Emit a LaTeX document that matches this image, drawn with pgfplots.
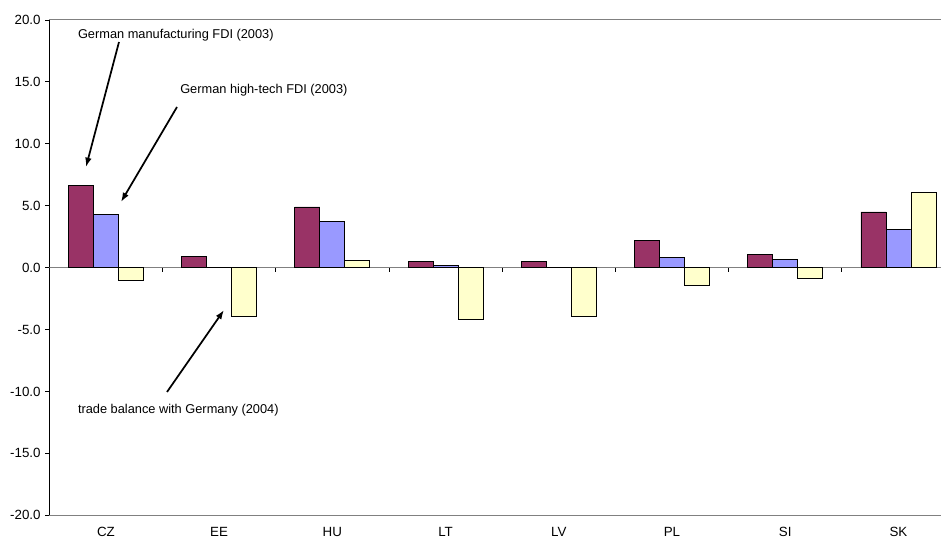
\documentclass[border=0pt]{standalone}
\usepackage{pgfplots}
\pgfplotsset{compat=1.18}
\usepackage{pgfplotstable}
\usepackage{fontspec}
\setmainfont{Liberation Sans}
\usetikzlibrary{arrows.meta}
\definecolor{manu}{HTML}{993366}
\definecolor{htech}{HTML}{9999FF}
\definecolor{trade}{HTML}{FFFFCC}
\definecolor{axgray}{HTML}{808080}

\pgfplotstableread{
x  manu  htech  trade
0  6.6   4.3    -1.0
1  0.9   0.0    -3.9
2  4.9   3.7    0.6
3  0.5   0.2    -4.2
4  0.5   0.05   -3.9
5  2.2   0.8    -1.4
6  1.1   0.65   -0.9
7  4.5   3.05   6.1
}\datatable

\begin{document}
\begin{tikzpicture}
\useasboundingbox (0,0) rectangle (705.75pt,403.5pt);
\begin{scope}
\clip (0,0) rectangle (705.75pt,403.5pt);
\begin{axis}[
  at={(36.975pt,17.025pt)}, anchor=south west,
  scale only axis,
  width=679.3pt, height=371.5pt,
  xmin=-0.5, xmax=7.5,
  ymin=-20, ymax=20,
  ybar=0pt, bar width=0.221,
  separate axis lines,
  axis x line*=box,
  axis y line*=left,
  x axis line style={axgray, line width=0.75pt},
  y axis line style={black, line width=0.75pt},
  xtick={0,...,7},
  xticklabels={CZ,EE,HU,LT,LV,PL,SI,SK},
  x tick style={draw=none},
  xticklabel pos=lower,
  xticklabel style={font=\fontsize{10}{12}\selectfont, yshift=-2.5pt},
  ytick={-20,-15,...,20},
  ytick pos=left,
  y tick style={black, line width=0.6pt},
  ytick align=outside,
  major tick length=3pt,
  yticklabel style={font=\fontsize{10}{12}\selectfont,
    /pgf/number format/.cd, fixed, fixed zerofill, precision=1, assume math mode=true},
  every axis plot/.append style={draw=black, line width=0.6pt},
]
\draw[axgray, line width=0.75pt] (axis cs:-0.5,0) -- (axis cs:7.5,0);
\addplot[fill=manu] table[x=x,y=manu]{\datatable};
\addplot[fill=htech] table[x=x,y=htech]{\datatable};
\addplot[fill=trade] table[x=x,y=trade]{\datatable};
\pgfplotsinvokeforeach{0.5,1.5,2.5,3.5,4.5,5.5,6.5}{
  \draw[black, line width=0.6pt] (axis cs:#1,0) -- ([yshift=-3pt]axis cs:#1,0);
}
\end{axis}
\draw[line width=1.3pt, -{Latex[length=7pt,width=5pt]}] (89.25pt,372pt) -- (64.5pt,278.25pt);
\draw[line width=1.3pt, -{Latex[length=7pt,width=5pt]}] (132.75pt,323.25pt) -- (90.75pt,252pt);
\draw[line width=1.3pt, -{Latex[length=7pt,width=5pt]}] (125.25pt,109.5pt) -- (168pt,171pt);
\node[anchor=west, inner sep=0pt, font=\fontsize{9.6}{11}\selectfont] at (58.3pt,377.25pt) {German manufacturing FDI (2003)};
\node[anchor=west, inner sep=0pt, font=\fontsize{9.6}{11}\selectfont] at (135pt,336pt) {German high-tech FDI (2003)};
\node[anchor=west, inner sep=0pt, font=\fontsize{9.6}{11}\selectfont] at (58.3pt,96pt) {trade balance with Germany (2004)};
\end{scope}
\end{tikzpicture}
\end{document}
